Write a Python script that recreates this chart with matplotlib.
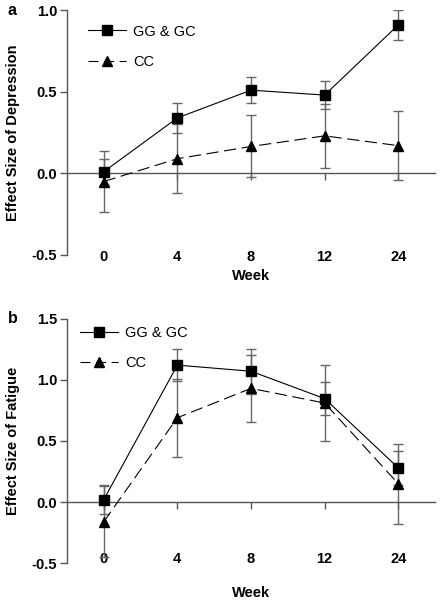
import matplotlib
matplotlib.use("Agg")
import matplotlib.pyplot as plt
from matplotlib.lines import Line2D

plt.rcParams['font.family'] = ['Liberation Sans', 'DejaVu Sans']

week_labels = ['0', '4', '8', '12', '24']

# panel a: depression
dep_gg = [0.01, 0.34, 0.51, 0.48, 0.91]
dep_gg_err = [0.08, 0.09, 0.08, 0.085, 0.09]
dep_cc = [-0.05, 0.09, 0.165, 0.23, 0.17]
dep_cc_err = [0.187, 0.21, 0.19, 0.195, 0.21]

# panel b: fatigue
fat_gg = [0.02, 1.12, 1.07, 0.846, 0.28]
fat_gg_err = [0.12, 0.13, 0.185, 0.135, 0.14]
fat_cc = [-0.16, 0.69, 0.93, 0.81, 0.15]
fat_cc_err = [0.29, 0.32, 0.275, 0.31, 0.325]

AXIS_GREY = '#555555'
ERR_GREY = '#666666'
FS = 10.5


def panel(ax, gg, gg_err, cc, cc_err, ylim, yticks, ylabel, letter,
          label_pad, week_y, legend_xy):
    x = list(range(len(week_labels)))

    ax.errorbar(x, gg, yerr=gg_err, fmt='none', ecolor=ERR_GREY, elinewidth=1.0,
                capsize=3.5, capthick=1.0, zorder=2)
    ax.errorbar(x, cc, yerr=cc_err, fmt='none', ecolor=ERR_GREY, elinewidth=1.0,
                capsize=3.5, capthick=1.0, zorder=2)
    ax.plot(x, gg, color='black', lw=0.8, marker='s', markersize=7, zorder=4)
    ax.plot(x, cc, color='black', lw=0.8, marker='^', markersize=7.5,
            dashes=(11, 5), zorder=3)

    ax.set_xlim(-0.5, 4.5)
    ax.set_ylim(*ylim)
    ax.set_yticks(yticks)
    ax.set_yticklabels([f'{t:.1f}' for t in yticks])
    ax.set_xticks(x)
    ax.set_xticklabels(week_labels)

    for s in ['top', 'right']:
        ax.spines[s].set_visible(False)
    ax.spines['left'].set_color(AXIS_GREY)
    ax.spines['bottom'].set_color(AXIS_GREY)
    ax.spines['bottom'].set_position(('data', 0))
    ax.spines['left'].set_linewidth(1.0)
    ax.spines['bottom'].set_linewidth(1.0)

    ax.tick_params(axis='y', direction='out', length=5, width=1.0, color=AXIS_GREY,
                   labelsize=FS, pad=2)
    ax.tick_params(axis='x', direction='out', length=5, width=1.0, color=AXIS_GREY,
                   labelsize=FS, pad=label_pad)
    for lab in ax.get_xticklabels() + ax.get_yticklabels():
        lab.set_fontweight('bold')

    ax.set_ylabel(ylabel, fontsize=FS, fontweight='bold')
    ax.yaxis.set_label_coords(-0.128, 0.5)
    ax.set_xlabel('Week', fontsize=FS, fontweight='bold')
    ax.xaxis.set_label_coords(0.5, week_y)

    handles = [
        Line2D([], [], color='black', lw=0.8, marker='s', markersize=7),
        Line2D([], [], color='black', lw=0.8, marker='^', markersize=7.5,
               dashes=(9, 5)),
    ]
    ax.legend(handles, ['GG & GC', 'CC'], loc='upper left',
              bbox_to_anchor=legend_xy, frameon=False, fontsize=FS,
              handlelength=2.6, labelspacing=1.1, handletextpad=0.5,
              borderaxespad=0)
    ax.text(-0.16, 1.0, letter, transform=ax.transAxes, fontsize=11.5,
            fontweight='bold', va='center', ha='left')


fig = plt.figure(figsize=(4.4, 6.0), dpi=100)
ax_a = fig.add_axes([0.152, 0.575, 0.837, 0.408])
ax_b = fig.add_axes([0.152, 0.061, 0.837, 0.408])

panel(ax_a, dep_gg, dep_gg_err, dep_cc, dep_cc_err, (-0.5, 1.0),
      [-0.5, 0.0, 0.5, 1.0], 'Effect Size of Depression', 'a', 50, -0.057,
      (0.042, 0.965))
panel(ax_b, fat_gg, fat_gg_err, fat_cc, fat_cc_err, (-0.5, 1.5),
      [-0.5, 0.0, 0.5, 1.0, 1.5], 'Effect Size of Fatigue', 'b', 31, -0.093,
      (0.02, 0.995))

fig.savefig('out.png', dpi=100)
